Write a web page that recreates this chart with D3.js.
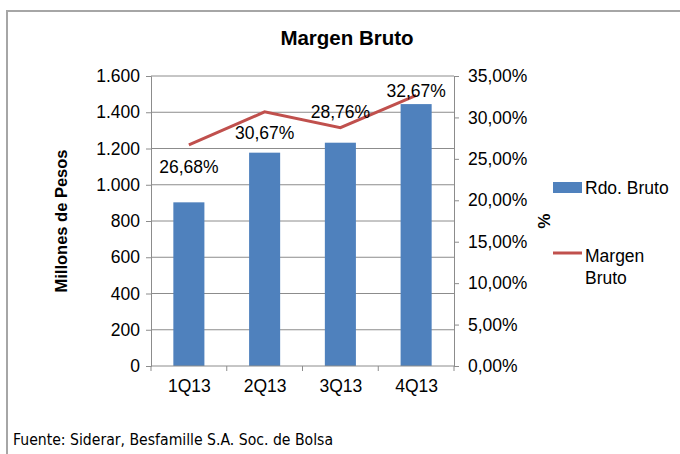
<!DOCTYPE html>
<html>
<head>
<meta charset="utf-8">
<script src="https://cdn.jsdelivr.net/npm/d3@7/dist/d3.min.js"></script>
<style>
  body { margin: 0; background: #fff; }
  svg { display: block; font-family: "Liberation Sans", Arial, sans-serif; }
</style>
</head>
<body>
<svg id="chart" width="680" height="454"></svg>
<script>
// Data
const quarters = ["1Q13", "2Q13", "3Q13", "4Q13"];
const rdoBruto = [903, 1177, 1232, 1445];
const margenBruto = [26.68, 30.67, 28.76, 32.67];
const leftTicks = [0, 200, 400, 600, 800, 1000, 1200, 1400, 1600];
const rightTicks = [0, 5, 10, 15, 20, 25, 30, 35];

// label offsets from the line point (px)
const labelDy = [28, 27, -10, 2];

const COLORS = {
  bar: "#4F81BD",
  line: "#C0504D",
  grid: "#8c8c8c",
  border: "#a6a6a6",
  text: "#000",
};

const FONT_SIZE = 17.5;

const svg = d3.select("#chart");
const plot = { left: 151, right: 454, top: 76, bottom: 366 };

const fmtInt = (v) => d3.format(",")(v).replace(/,/g, ".");
const fmtPct = (v) => v.toFixed(2).replace(".", ",") + "%";

// outer frame
svg.append("rect")
  .attr("x", 7).attr("y", 11)
  .attr("width", 690).attr("height", 460)
  .attr("fill", "none")
  .attr("stroke", COLORS.border)
  .attr("stroke-width", 2);

// scales
const x = d3.scaleBand().domain(quarters).range([plot.left, plot.right]).paddingInner(0.59).paddingOuter(0.295);
const xCenter = d3.scalePoint().domain(quarters).range([plot.left, plot.right]).padding(0.5);
const yLeft = d3.scaleLinear().domain([0, 1600]).range([plot.bottom, plot.top]);
const yRight = d3.scaleLinear().domain([0, 35]).range([plot.bottom, plot.top]);

// gridlines
svg.append("g")
  .selectAll("line")
  .data(leftTicks.slice(1))
  .join("line")
  .attr("x1", plot.left).attr("x2", plot.right)
  .attr("y1", (d) => yLeft(d)).attr("y2", (d) => yLeft(d))
  .attr("stroke", COLORS.grid)
  .attr("stroke-width", 1);

// bars
svg.append("g")
  .selectAll("rect")
  .data(quarters)
  .join("rect")
  .attr("x", (d) => x(d))
  .attr("width", x.bandwidth())
  .attr("y", (d, i) => yLeft(rdoBruto[i]))
  .attr("height", (d, i) => plot.bottom - yLeft(rdoBruto[i]))
  .attr("fill", COLORS.bar);

// axes
const leftAxis = svg.append("g")
  .attr("transform", `translate(${plot.left},0)`)
  .call(d3.axisLeft(yLeft).tickValues(leftTicks).tickFormat(fmtInt).tickSize(5).tickPadding(6));

const rightAxis = svg.append("g")
  .attr("transform", `translate(${plot.right},0)`)
  .call(d3.axisRight(yRight).tickValues(rightTicks).tickFormat(fmtPct).tickSize(5).tickPadding(9));

const bottomAxis = svg.append("g")
  .attr("transform", `translate(0,${plot.bottom})`)
  .call(d3.axisBottom(xCenter).tickSize(0).tickPadding(14));

// category tick marks on the x axis
svg.append("g")
  .selectAll("line")
  .data(d3.range(quarters.length + 1))
  .join("line")
  .attr("x1", (i) => plot.left + i * (plot.right - plot.left) / quarters.length)
  .attr("x2", (i) => plot.left + i * (plot.right - plot.left) / quarters.length)
  .attr("y1", plot.bottom).attr("y2", plot.bottom + 5)
  .attr("stroke", COLORS.grid);

[leftAxis, rightAxis, bottomAxis].forEach((g) => {
  g.select(".domain").attr("stroke", COLORS.grid).attr("stroke-width", 1);
  g.selectAll(".tick line").attr("stroke", COLORS.grid);
  g.selectAll("text").attr("font-size", FONT_SIZE).attr("fill", COLORS.text)
    .attr("font-family", "Liberation Sans, Arial, sans-serif");
});
bottomAxis.select(".domain").attr("d", `M${plot.left},0H${plot.right}`);

// line
const line = d3.line()
  .x((d, i) => xCenter(quarters[i]))
  .y((d) => yRight(d));

svg.append("path")
  .datum(margenBruto)
  .attr("d", line)
  .attr("fill", "none")
  .attr("stroke", COLORS.line)
  .attr("stroke-width", 3);

// data labels
svg.append("g")
  .selectAll("text")
  .data(margenBruto)
  .join("text")
  .attr("x", (d, i) => xCenter(quarters[i]))
  .attr("y", (d, i) => yRight(d) + labelDy[i])
  .attr("text-anchor", "middle")
  .attr("font-size", FONT_SIZE)
  .text((d) => fmtPct(d));

// title
svg.append("text")
  .attr("x", 347).attr("y", 45)
  .attr("text-anchor", "middle")
  .attr("font-size", 20.5)
  .attr("font-weight", "bold")
  .text("Margen Bruto");

// axis titles
svg.append("text")
  .attr("transform", `translate(67,${(plot.top + plot.bottom) / 2}) rotate(-90)`)
  .attr("text-anchor", "middle")
  .attr("font-size", 16.5)
  .attr("font-weight", "bold")
  .text("Millones de Pesos");

svg.append("text")
  .attr("transform", `translate(538,${(plot.top + plot.bottom) / 2}) rotate(90)`)
  .attr("text-anchor", "middle")
  .attr("font-size", 17)
  .attr("font-weight", "bold")
  .text("%");

// legend
const legend = svg.append("g");
legend.append("rect")
  .attr("x", 553).attr("y", 182)
  .attr("width", 29).attr("height", 11)
  .attr("fill", COLORS.bar);
legend.append("text")
  .attr("x", 585).attr("y", 194)
  .attr("font-size", FONT_SIZE)
  .text("Rdo. Bruto");
legend.append("line")
  .attr("x1", 553).attr("x2", 582)
  .attr("y1", 253).attr("y2", 253)
  .attr("stroke", COLORS.line)
  .attr("stroke-width", 3);
legend.append("text")
  .attr("x", 585).attr("y", 262)
  .attr("font-size", FONT_SIZE)
  .text("Margen");
legend.append("text")
  .attr("x", 585).attr("y", 284)
  .attr("font-size", FONT_SIZE)
  .text("Bruto");

// source
svg.append("text")
  .attr("x", 13).attr("y", 445)
  .attr("font-size", 15)
  .attr("font-family", "DejaVu Sans Condensed, Open Sans, sans-serif")
  .attr("textLength", 320)
  .attr("lengthAdjust", "spacingAndGlyphs")
  .text("Fuente: Siderar, Besfamille S.A. Soc. de Bolsa");
</script>
</body>
</html>
